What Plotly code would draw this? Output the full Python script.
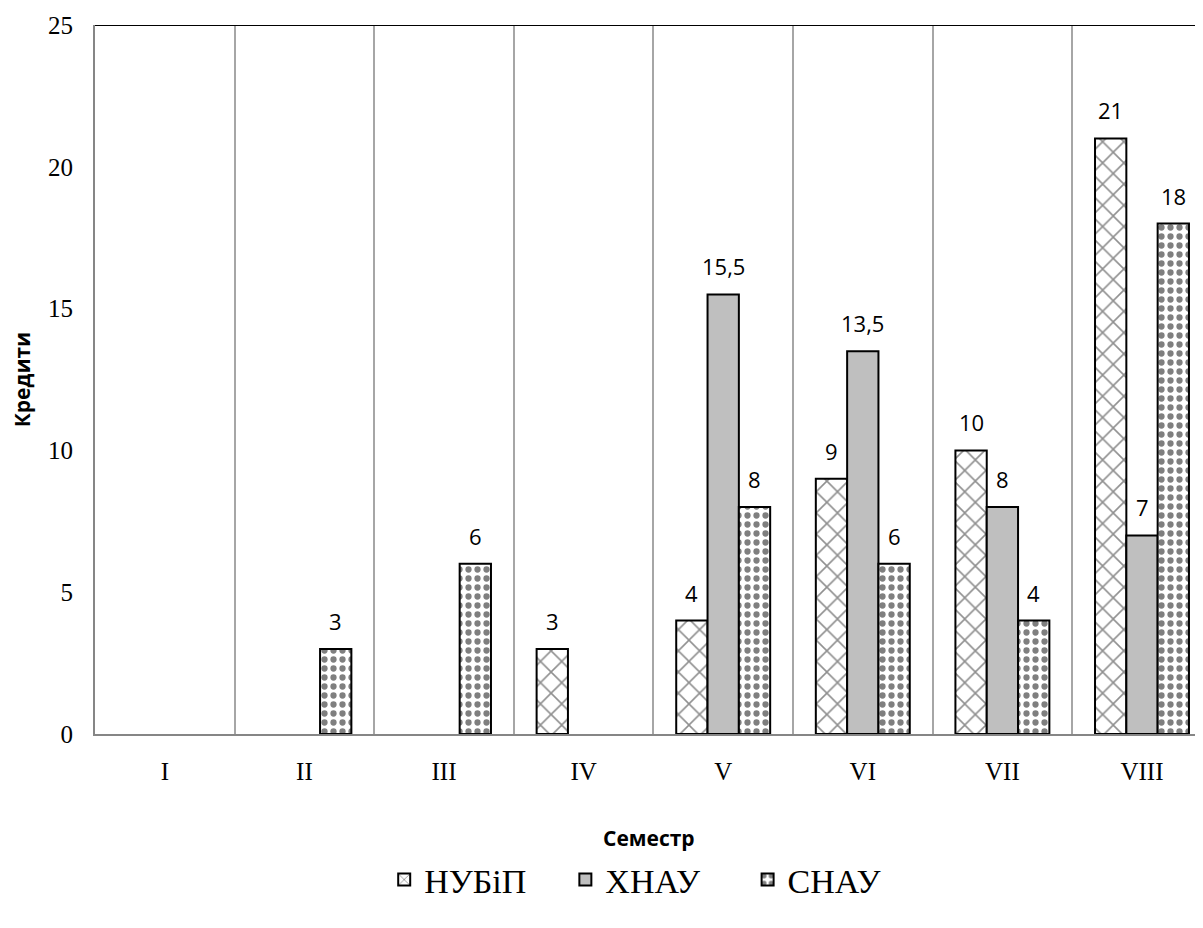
import plotly.graph_objects as go

semesters = ["I", "II", "III", "IV", "V", "VI", "VII", "VIII"]
nubip = [None, None, None, 3, 4, 9, 10, 21]
khnau = [None, None, None, None, 15.5, 13.5, 8, 7]
snau = [None, 3, 6, None, 8, 6, 4, 18]
series_names = ["НУБіП", "ХНАУ", "СНАУ"]

BARGAP = 0.327
bw = (1 - BARGAP) / 3
SERIF = "Liberation Serif"
NB = "\u00a0"

fig = go.Figure()
fig.add_trace(go.Bar(
    x=semesters, y=nubip, name=series_names[0] + NB * 4,
    marker=dict(color="white", line=dict(color="black", width=2),
                pattern=dict(shape="x", fgcolor="#202020", bgcolor="white", size=15, solidity=0.2)),
))
fig.add_trace(go.Bar(
    x=semesters, y=khnau, name=series_names[1] + NB * 5,
    marker=dict(color="#bfbfbf", line=dict(color="black", width=2)),
))
fig.add_trace(go.Bar(
    x=semesters, y=snau, name=series_names[2],
    marker=dict(color="white", line=dict(color="black", width=2),
                pattern=dict(shape=".", fgcolor="black", bgcolor="white", size=9, solidity=0.38)),
))


def fmt(v):
    return ("%g" % v).replace(".", ",")


annotations = []
for k, series in enumerate([nubip, khnau, snau]):
    off = (k - 1) * bw
    for i, v in enumerate(series):
        if v:
            annotations.append(dict(
                x=i + off, y=v, xref="x", yref="y", text=fmt(v), showarrow=False,
                yanchor="bottom", yshift=11,
                font=dict(family="Open Sans", size=22, color="black"),
            ))

annotations.append(dict(
    x=0.5, y=-0.146, xref="paper", yref="paper", text="<b>Семестр</b>", showarrow=False,
    font=dict(family="Open Sans", size=21, color="black"), xanchor="center", yanchor="middle",
))
annotations.append(dict(
    x=-0.066, y=0.5, xref="paper", yref="paper", text="<b>Кредити</b>", showarrow=False,
    textangle=-90, font=dict(family="Open Sans", size=21, color="black"),
    xanchor="center", yanchor="middle",
))

fig.update_layout(
    width=1195, height=920,
    margin=dict(l=87, r=0, t=17, b=194, autoexpand=False),
    paper_bgcolor="white", plot_bgcolor="white",
    barmode="group", bargap=BARGAP, bargroupgap=0,
    font=dict(family=SERIF, color="black"),
    showlegend=True,
    legend=dict(orientation="h", x=0.488, xanchor="center", y=-0.165, yanchor="top",
                font=dict(family=SERIF, size=34, color="black"),
                traceorder="normal"),
    annotations=annotations,
    shapes=[dict(type="line", xref="paper", yref="y", x0=0, x1=1, y0=25, y1=25,
                 line=dict(color="black", width=2))],
)
fig.update_xaxes(
    type="category", range=[-0.5, 7.437], tickson="boundaries",
    showgrid=True, gridcolor="#a6a6a6", gridwidth=1.5,
    showline=True, linecolor="#868686", linewidth=2,
    ticks="", ticklabelstandoff=14, automargin=False,
    tickfont=dict(family=SERIF, size=25, color="black"),
)
fig.update_yaxes(
    range=[0, 25], dtick=5, showgrid=False, zeroline=False,
    showline=True, linecolor="#868686", linewidth=2,
    ticks="", ticklabelstandoff=15, automargin=False,
    tickfont=dict(family=SERIF, size=25, color="black"),
)

fig.write_html("out.html")
